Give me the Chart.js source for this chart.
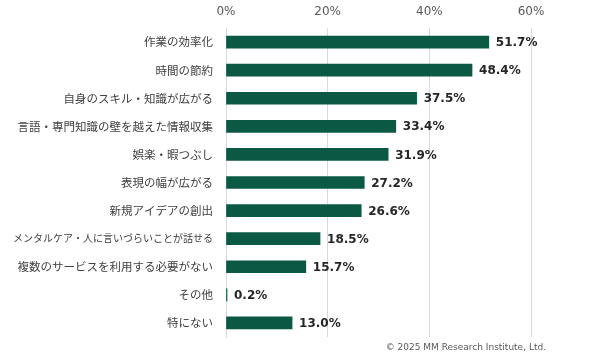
<!DOCTYPE html>
<html>
<head>
<meta charset="utf-8">
<script src="https://cdn.jsdelivr.net/npm/chart.js@4"></script>
<style>
  html, body { margin: 0; padding: 0; background: #fff; }
  #wrap { width: 590px; height: 360px; position: relative; }
</style>
</head>
<body>
<div id="wrap"><canvas id="usageChart"></canvas></div>
<script>
const categories = [
  '作業の効率化',
  '時間の節約',
  '自身のスキル・知識が広がる',
  '言語・専門知識の壁を越えた情報収集',
  '娯楽・暇つぶし',
  '表現の幅が広がる',
  '新規アイデアの創出',
  'メンタルケア・人に言いづらいことが話せる',
  '複数のサービスを利用する必要がない',
  'その他',
  '特にない'
];
const shares = [51.7, 48.4, 37.5, 33.4, 31.9, 27.2, 26.6, 18.5, 15.7, 0.2, 13.0];
const tickValues = [0, 20, 40, 60];
const creditText = '© 2025 MM Research Institute, Ltd.';

const valueLabels = {
  id: 'valueLabels',
  afterDatasetsDraw(chart) {
    const { ctx } = chart;
    const meta = chart.getDatasetMeta(0);
    ctx.save();
    ctx.font = "bold 12px 'DejaVu Sans', sans-serif";
    ctx.fillStyle = '#262626';
    ctx.textAlign = 'left';
    ctx.textBaseline = 'middle';
    meta.data.forEach((bar, i) => {
      ctx.fillText(shares[i].toFixed(1) + '%', bar.x + 7, bar.y + 1);
    });
    ctx.restore();
  }
};

const credit = {
  id: 'credit',
  afterDraw(chart) {
    const { ctx } = chart;
    ctx.save();
    ctx.font = "9px 'DejaVu Sans', sans-serif";
    ctx.fillStyle = '#595959';
    ctx.textAlign = 'right';
    ctx.textBaseline = 'middle';
    ctx.fillText(creditText, 546, 348);
    ctx.restore();
  }
};

new Chart(document.getElementById('usageChart'), {
  type: 'bar',
  data: {
    labels: categories,
    datasets: [{
      data: shares,
      backgroundColor: '#0b5943',
      barThickness: 12,
      borderWidth: 0
    }]
  },
  options: {
    indexAxis: 'y',
    responsive: true,
    maintainAspectRatio: false,
    animation: false,
    layout: { padding: { left: 0, right: 59, top: 0, bottom: 23 } },
    plugins: {
      legend: { display: false },
      tooltip: { enabled: false }
    },
    scales: {
      x: {
        position: 'top',
        min: 0,
        max: 60,
        afterBuildTicks: (scale) => {
          scale.ticks = tickValues.map((v) => ({ value: v }));
        },
        afterFit: (scale) => { scale.height = 28; },
        grid: { color: '#d9d9d9', drawTicks: false },
        border: { display: false },
        ticks: {
          color: '#595959',
          padding: 9,
          font: { family: "'DejaVu Sans', sans-serif", size: 12 },
          callback: (value) => value + '%'
        }
      },
      y: {
        afterFit: (scale) => { scale.width = 226; },
        grid: { display: false, drawTicks: false },
        border: { color: '#d9d9d9' },
        ticks: {
          color: '#404040',
          padding: 13,
          font: (c) => ({
            family: "'Noto Sans CJK JP', sans-serif",
            // the longest label would run off the left edge at full size
            size: categories[c.index] && categories[c.index].length > 18 ? 10 : 11.5
          })
        }
      }
    }
  },
  plugins: [valueLabels, credit]
});
</script>
</body>
</html>
